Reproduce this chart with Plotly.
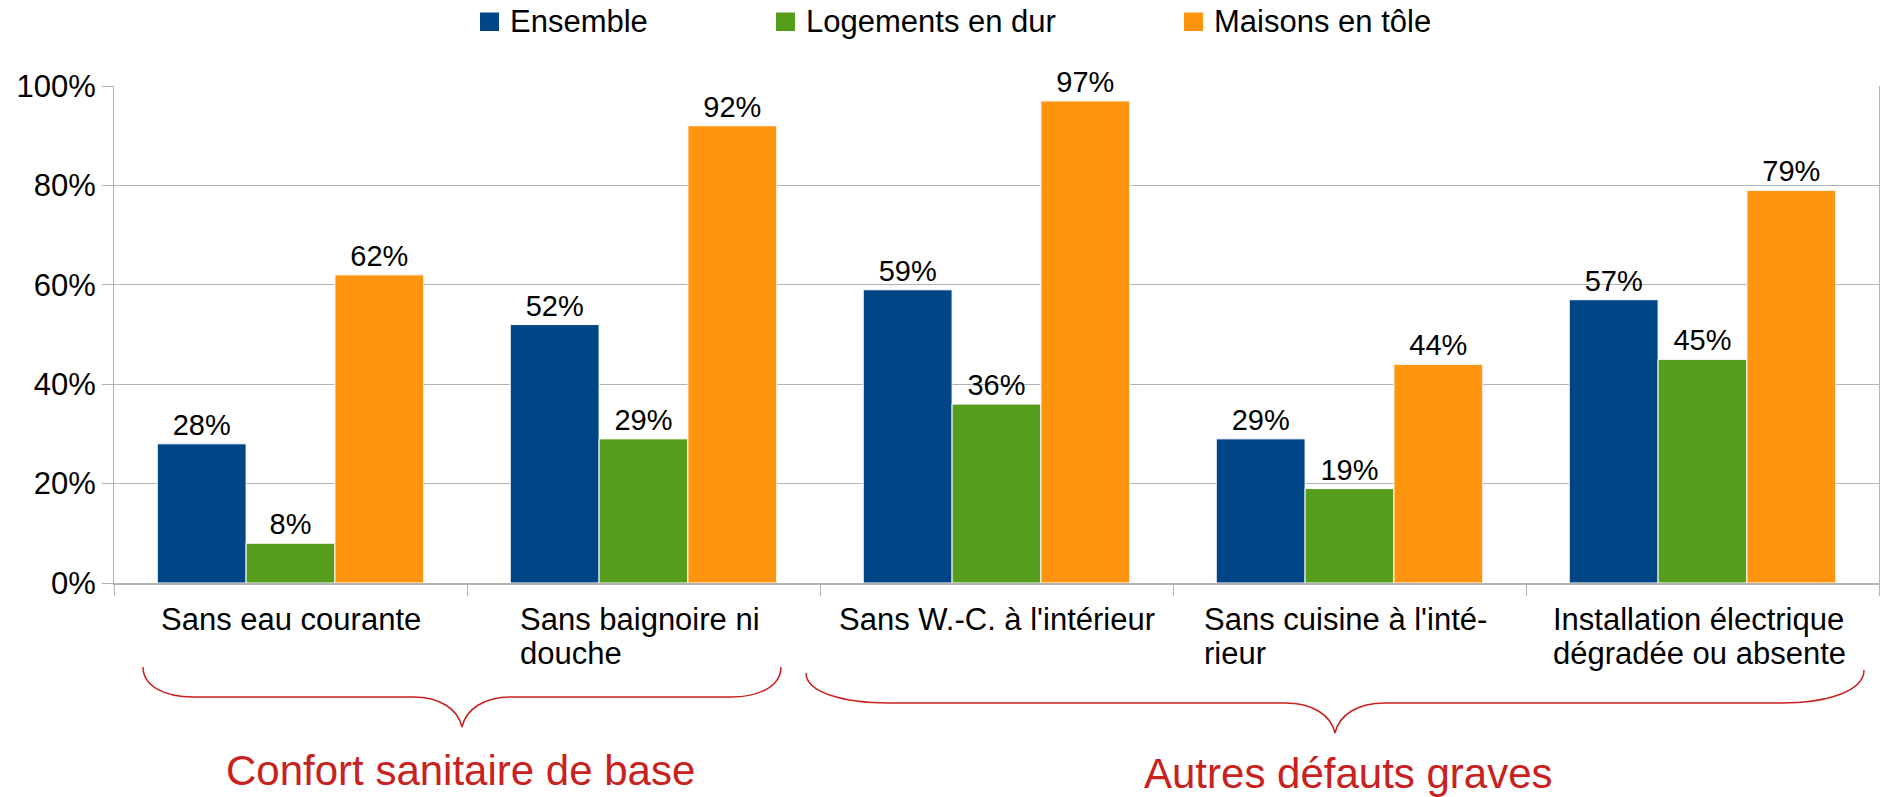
import plotly.graph_objects as go

# ---------------- data ----------------
categories = ["Sans eau courante", "Sans baignoire ni douche", "Sans W.-C. à l'intérieur",
              "Sans cuisine à l'intérieur", "Installation électrique dégradée ou absente"]
category_labels = [["Sans eau courante"], ["Sans baignoire ni", "douche"], ["Sans W.-C. à l'intérieur"],
                   ["Sans cuisine à l'inté-", "rieur"], ["Installation électrique", "dégradée ou absente"]]
series_names = ["Ensemble", "Logements en dur", "Maisons en tôle"]
ensemble = [28, 52, 59, 29, 57]
logements_dur = [8, 29, 36, 19, 45]
maisons_tole = [62, 92, 97, 44, 79]
group_labels = ["Confort sanitaire de base", "Autres défauts graves"]
y_ticks = [0, 20, 40, 60, 80, 100]

# ---------------- style ----------------
colors = ["#004586", "#579d1c", "#ff950e"]
red = "#c9211e"
grid = "#b3b3b3"
FONT = "Liberation Sans, Arial, sans-serif"

PAGE_W, PAGE_H = 1885, 797
OFF = 0  # body margin removed via post_script
L, R, T, B = 114, 1879, 86, 583  # plot area in page pixels
PW, PH = R - L, B - T
# left edge of left-aligned multi-line category labels, relative to category centre (px)
label_xshift = [0, -125.5, 0, -148, -152]


def px(x):
    return (x - L) / PW


def py(y):
    return (B - y) / PH


fig = go.Figure()
for name, vals, col in zip(series_names, [ensemble, logements_dur, maisons_tole], colors):
    fig.add_trace(go.Bar(
        x=categories, y=vals, name=name,
        marker=dict(color=col, line=dict(color="white", width=1)),
        text=[f"{v}%" for v in vals], textposition="outside",
        textfont=dict(size=29, color="black", family=FONT),
        cliponaxis=False, constraintext="none", showlegend=False,
        hovertemplate="%{x}<br>" + name + ": %{y}%<extra></extra>",
    ))

annotations = []
shapes = []

# category labels (left-aligned lines, block centred under each category)
LINE_H = 33.5
for cat, lines, xs in zip(categories, category_labels, label_xshift):
    for i, line in enumerate(lines):
        if len(lines) == 1:
            annotations.append(dict(
                x=cat, xref="x", y=py(600), yref="paper", text=line, showarrow=False,
                xanchor="center", yanchor="top",
                font=dict(size=31, color="black", family=FONT)))
        else:
            annotations.append(dict(
                x=cat, xref="x", y=py(600 + i * LINE_H), yref="paper", text=line, showarrow=False,
                xanchor="left", yanchor="top", xshift=xs,
                font=dict(size=31, color="black", family=FONT)))

# legend (manual, to match spacing)
legend_sq_x = [480, 776, 1184]
for name, col, x0 in zip(series_names, colors, legend_sq_x):
    shapes.append(dict(type="rect", xref="paper", yref="paper",
                       x0=px(x0), x1=px(x0 + 19), y0=py(31), y1=py(12.5),
                       fillcolor=col, line=dict(width=0)))
    annotations.append(dict(x=px(x0 + 28), xref="paper", y=py(21.5), yref="paper",
                            text=name, showarrow=False, xanchor="left", yanchor="middle",
                            font=dict(size=31, color="black", family=FONT)))


# braces
def brace_path(x_left, x_right, x_tip, y_end_l, y_end_r, y_h, y_tip, curl_l, curl_r, tipw):
    pts = [
        ("M", [(x_left, y_end_l)]),
        ("C", [(x_left, y_end_l + (y_h - y_end_l) * 0.65), (x_left + curl_l * 0.45, y_h), (x_left + curl_l, y_h)]),
        ("L", [(x_tip - tipw, y_h)]),
        ("C", [(x_tip - tipw * 0.45, y_h), (x_tip - 4, y_h + (y_tip - y_h) * 0.4), (x_tip, y_tip)]),
        ("C", [(x_tip + 4, y_h + (y_tip - y_h) * 0.4), (x_tip + tipw * 0.45, y_h), (x_tip + tipw, y_h)]),
        ("L", [(x_right - curl_r, y_h)]),
        ("C", [(x_right - curl_r * 0.45, y_h), (x_right, y_end_r + (y_h - y_end_r) * 0.65), (x_right, y_end_r)]),
    ]
    s = ""
    for cmd, p in pts:
        s += cmd + " " + " ".join(f"{px(a):.5f},{py(b):.5f}" for a, b in p) + " "
    return s.strip()


shapes.append(dict(type="path", xref="paper", yref="paper",
                   path=brace_path(143, 781, 462, 667, 667, 697, 727, 50, 50, 49),
                   line=dict(color=red, width=1.5)))
shapes.append(dict(type="path", xref="paper", yref="paper",
                   path=brace_path(806, 1864, 1335, 673, 670, 703, 733, 83, 83, 50),
                   line=dict(color=red, width=1.5)))

# group labels
for lab, xc, yc in zip(group_labels, [460, 1348], [770, 773]):
    annotations.append(dict(x=px(xc), xref="paper", y=py(yc), yref="paper", text=lab,
                            showarrow=False, xanchor="center", yanchor="middle",
                            font=dict(size=42, color=red, family=FONT)))

fig.update_layout(
    width=PAGE_W - OFF, height=PAGE_H - OFF,
    margin=dict(l=L - OFF, r=PAGE_W - R, t=T - OFF, b=PAGE_H - B, pad=0),
    paper_bgcolor="white", plot_bgcolor="white",
    font=dict(family=FONT, size=31, color="black"),
    barmode="group", bargap=0.245, bargroupgap=0,
    showlegend=False,
    annotations=annotations, shapes=shapes,
    xaxis=dict(type="category", showticklabels=False, ticks="outside", tickson="boundaries",
               ticklen=11, tickcolor=grid, tickwidth=1, showline=True, linecolor=grid,
               linewidth=2, showgrid=False, zeroline=False),
    yaxis=dict(range=[0, 100], tickvals=y_ticks, ticktext=[f"{v}%" for v in y_ticks],
               showgrid=True, gridcolor=grid, gridwidth=1, showline=True, linecolor=grid,
               linewidth=1, mirror=True, ticks="outside", ticklen=11, tickcolor=grid,
               zeroline=False, tickfont=dict(size=31, color="black", family=FONT)),
)

fig.write_html("out.html", config={"displayModeBar": False},
               post_script="document.body.style.margin='0px';document.body.style.overflow='hidden';")
